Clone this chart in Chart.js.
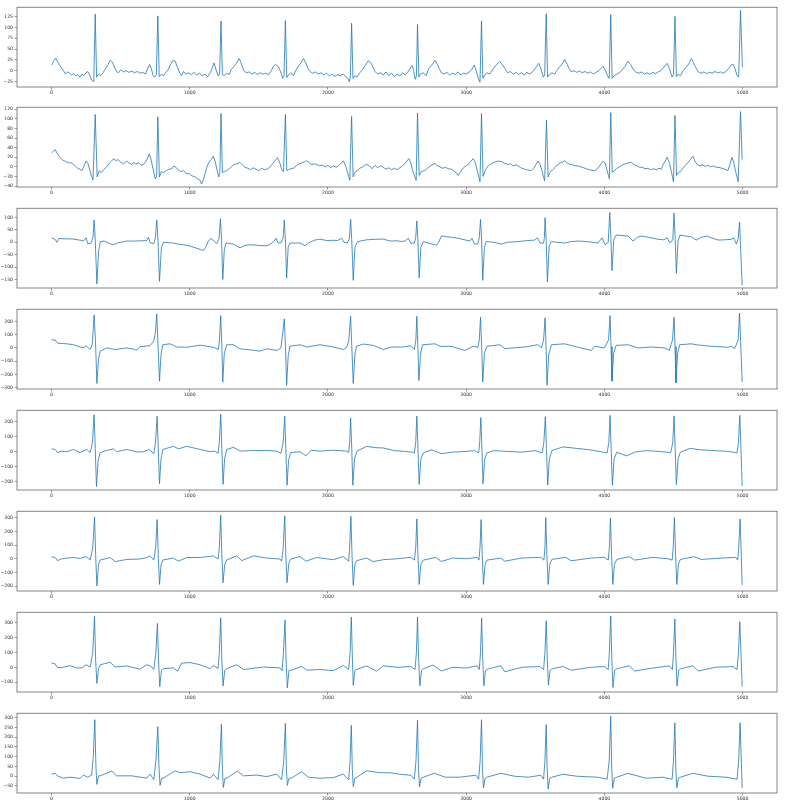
<!DOCTYPE html>
<html>
<head>
<meta charset="utf-8">
<script src="https://cdn.jsdelivr.net/npm/chart.js@4.4.1/dist/chart.umd.min.js"></script>
<style>
  body { margin: 0; background: #fff; }
  #wrap { position: relative; width: 785px; height: 806px; }
  .panel { position: absolute; left: 0; width: 785px; height: 100px; }
</style>
</head>
<body>
<div id="wrap"></div>
<script>
// sample index ticks shared by all leads
let xTicks = [0, 1000, 2000, 3000, 4000, 5000];

// each lead: [sample, value] points
let lead1 = [[0,13],[15,22],[30,29],[45,20],[60,12],[75,5],[90,-2],[100,-8],[115,-3],[130,-6],[145,-10],[160,-7],[175,-12],[190,-9],[205,-15],[220,-8],[235,-12],[250,-5],[262,-2],[275,-10],[290,-22],[300,-25],[306,-18],[316,131],[326,-15],[340,-8],[355,-12],[370,-6],[390,4],[410,15],[425,24],[440,20],[455,8],[470,-2],[485,-5],[500,2],[520,-3],[540,0],[560,-4],[580,-1],[600,-5],[620,-2],[640,-6],[660,-4],[680,-8],[695,5],[710,14],[722,5],[735,-12],[748,-15],[758,-10],[769,127],[779,-14],[792,-9],[810,-12],[825,-5],[845,3],[862,15],[880,24],[895,22],[910,8],[925,-3],[940,-12],[955,-2],[970,-8],[990,-5],[1010,-9],[1030,-4],[1050,-10],[1070,-6],[1090,-12],[1110,-8],[1130,-14],[1150,-4],[1165,8],[1175,18],[1190,2],[1205,-12],[1216,-8],[1226,115],[1236,-9],[1250,-12],[1265,-6],[1285,-9],[1300,2],[1320,10],[1340,18],[1358,28],[1375,15],[1390,0],[1410,-5],[1430,-3],[1450,-8],[1470,-4],[1490,-9],[1510,-5],[1530,-8],[1550,-6],[1570,-10],[1590,0],[1605,10],[1620,14],[1640,10],[1660,-5],[1672,-18],[1682,-12],[1692,116],[1702,-16],[1715,-10],[1730,-5],[1750,-12],[1770,2],[1790,12],[1805,18],[1822,28],[1840,18],[1855,5],[1870,-2],[1890,-6],[1910,-3],[1930,-8],[1950,-5],[1970,-10],[1990,-6],[2010,-12],[2030,-8],[2050,-14],[2070,-9],[2090,-12],[2110,-8],[2130,-14],[2145,-18],[2155,-26],[2162,-15],[2171,110],[2181,-18],[2195,-12],[2210,-15],[2230,-5],[2250,2],[2270,12],[2292,23],[2310,18],[2325,8],[2340,-2],[2360,-8],[2380,-5],[2400,-10],[2420,-3],[2440,-12],[2460,-6],[2480,-14],[2500,-8],[2520,-12],[2540,-5],[2560,-10],[2580,-2],[2600,8],[2610,12],[2620,0],[2632,-20],[2640,-12],[2648,107],[2658,-15],[2670,-8],[2690,-5],[2710,-12],[2730,5],[2750,12],[2774,24],[2790,15],[2805,5],[2820,-5],[2840,-8],[2860,-4],[2880,-10],[2900,-6],[2920,-9],[2940,-3],[2960,-10],[2980,-6],[3000,-8],[3020,-4],[3040,2],[3058,13],[3072,0],[3090,-20],[3100,-27],[3111,115],[3121,-18],[3135,-10],[3150,-5],[3170,-8],[3190,2],[3215,12],[3243,21],[3260,15],[3280,5],[3300,-5],[3320,-2],[3340,-8],[3360,-4],[3380,-9],[3400,-5],[3420,-10],[3440,-4],[3460,-8],[3480,-3],[3500,5],[3525,17],[3540,5],[3558,-15],[3568,-10],[3579,132],[3589,-15],[3600,-10],[3620,-5],[3640,-8],[3660,2],[3680,10],[3700,18],[3713,26],[3730,15],[3745,5],[3760,-3],[3780,0],[3800,-4],[3820,-1],[3840,-5],[3860,-2],[3880,-6],[3900,-3],[3920,-8],[3940,-4],[3960,0],[3975,5],[3990,10],[4005,2],[4020,-10],[4035,-18],[4046,130],[4056,-18],[4070,-12],[4090,-8],[4110,-5],[4130,2],[4150,10],[4171,22],[4190,14],[4210,2],[4230,-4],[4250,-6],[4270,-3],[4290,-8],[4310,-5],[4330,-9],[4350,-4],[4370,-7],[4390,-3],[4410,0],[4430,8],[4455,17],[4470,5],[4490,-15],[4500,-10],[4511,126],[4521,-14],[4535,-8],[4550,-12],[4570,0],[4590,8],[4610,15],[4629,28],[4645,18],[4660,8],[4680,-3],[4700,-6],[4720,-3],[4740,-7],[4760,-4],[4780,-6],[4800,-2],[4820,-5],[4840,-3],[4860,-6],[4880,-2],[4900,5],[4915,12],[4930,15],[4945,5],[4960,-12],[4972,-15],[4985,140],[4999,8]];

let lead2 = [[0,29],[15,33],[26,36],[40,28],[55,22],[63,19],[80,14],[95,12],[110,10],[125,8],[140,9],[160,5],[175,1],[190,-3],[205,-5],[220,-8],[235,2],[250,12],[262,8],[275,-5],[290,-20],[300,-27],[316,109],[330,-21],[345,-8],[360,-12],[380,-5],[400,0],[420,8],[435,12],[448,17],[465,13],[480,15],[500,10],[520,6],[545,12],[560,8],[580,5],[593,9],[610,6],[630,8],[650,3],[665,5],[680,10],[695,18],[708,27],[720,15],[735,-5],[750,-25],[760,-20],[769,104],[780,-21],[795,-10],[810,-12],[830,-8],[850,-5],[870,-4],[885,2],[900,-1],[915,-6],[935,-10],[955,-8],[978,-15],[995,-14],[1010,-18],[1027,-20],[1045,-22],[1060,-26],[1075,-28],[1085,-36],[1095,-30],[1110,-15],[1123,-1],[1140,10],[1155,15],[1171,22],[1185,10],[1200,-10],[1210,-21],[1218,-12],[1226,111],[1236,-12],[1250,-10],[1267,-8],[1285,-4],[1300,0],[1320,5],[1340,6],[1364,9],[1380,4],[1400,-1],[1420,-3],[1440,-6],[1460,-2],[1480,-5],[1500,-8],[1520,-3],[1540,-6],[1557,-5],[1575,-2],[1595,5],[1615,12],[1634,19],[1650,10],[1665,-6],[1678,-10],[1692,109],[1702,-8],[1720,-5],[1749,-3],[1770,2],[1790,6],[1810,8],[1830,10],[1846,13],[1865,8],[1880,5],[1900,6],[1918,5],[1940,2],[1960,4],[1980,0],[2000,3],[2020,-2],[2039,2],[2060,-1],[2080,3],[2095,8],[2111,12],[2125,4],[2140,-10],[2150,-20],[2158,-28],[2171,105],[2182,-21],[2195,-12],[2210,-8],[2230,-3],[2250,0],[2265,3],[2280,5],[2300,2],[2320,-4],[2340,3],[2360,-2],[2380,2],[2400,-1],[2420,-5],[2440,-2],[2460,-6],[2480,-3],[2500,-6],[2520,-2],[2540,2],[2560,8],[2585,17],[2600,8],[2615,-10],[2630,-22],[2638,-28],[2648,112],[2660,-18],[2675,-10],[2701,-8],[2720,-3],[2740,2],[2760,5],[2774,7],[2790,3],[2810,0],[2830,-3],[2850,-1],[2870,-4],[2894,-5],[2910,-8],[2925,-12],[2942,-18],[2960,-10],[2980,-2],[3000,2],[3020,6],[3035,12],[3050,17],[3065,10],[3080,-8],[3092,-22],[3100,-31],[3111,111],[3122,-20],[3135,-10],[3150,-1],[3170,4],[3190,8],[3210,10],[3230,12],[3255,11],[3275,8],[3300,5],[3320,6],[3340,2],[3360,4],[3376,2],[3395,-2],[3415,-4],[3435,-6],[3455,-7],[3472,-8],[3490,-3],[3505,5],[3521,12],[3535,5],[3550,-10],[3560,-22],[3568,-29],[3581,97],[3593,-21],[3605,-12],[3620,-8],[3640,-2],[3660,4],[3680,8],[3700,10],[3713,13],[3730,8],[3750,5],[3770,4],[3790,2],[3810,2],[3830,0],[3850,-2],[3870,-4],[3890,-6],[3910,-7],[3930,-8],[3950,-4],[3970,4],[3990,12],[4005,8],[4020,-8],[4030,-18],[4036,-25],[4046,113],[4057,-12],[4070,-8],[4090,-3],[4110,0],[4130,4],[4150,6],[4170,8],[4195,9],[4215,5],[4235,2],[4255,-1],[4275,-1],[4295,-4],[4315,-3],[4335,-6],[4355,-4],[4375,-6],[4395,-3],[4412,-5],[4425,5],[4440,12],[4455,20],[4470,8],[4485,-10],[4493,-22],[4500,-31],[4511,107],[4522,-18],[4535,-12],[4550,-10],[4570,-2],[4590,5],[4610,10],[4625,16],[4641,22],[4655,12],[4670,5],[4690,2],[4710,4],[4730,1],[4750,3],[4770,0],[4790,2],[4810,-1],[4822,-1],[4840,-2],[4860,-4],[4880,-6],[4894,-8],[4905,2],[4915,12],[4923,20],[4935,10],[4950,-10],[4960,-22],[4968,-31],[4985,115],[4997,15]];

let lead3 = [[0,18],[25,12],[39,0],[55,16],[80,14],[120,14],[159,13],[200,9],[231,5],[250,18],[262,-6],[285,-4],[300,20],[308,90],[316,10],[328,-167],[340,-40],[352,3],[380,5],[410,-3],[448,-10],[480,-2],[545,5],[600,5],[650,6],[689,7],[701,20],[715,-3],[740,-5],[752,20],[761,90],[770,10],[781,-157],[795,-20],[810,0],[850,-2],[882,-3],[920,-8],[954,-10],[1000,-15],[1040,-22],[1075,-29],[1099,-33],[1115,-20],[1135,5],[1152,16],[1170,8],[1195,-5],[1212,15],[1222,95],[1230,10],[1239,-150],[1250,-30],[1262,-3],[1290,-5],[1316,-7],[1340,-15],[1364,-22],[1400,-12],[1440,-10],[1490,-12],[1530,-14],[1557,-14],[1590,-5],[1610,5],[1624,16],[1640,-3],[1660,-2],[1675,15],[1684,90],[1692,10],[1701,-144],[1712,-20],[1725,-3],[1760,-3],[1798,-3],[1834,-14],[1860,-2],[1900,8],[1942,13],[1990,7],[2040,8],[2070,7],[2099,16],[2115,0],[2140,-3],[2155,15],[2164,92],[2172,10],[2183,-153],[2195,-20],[2210,0],[2240,6],[2280,10],[2340,12],[2400,13],[2450,5],[2500,6],[2533,3],[2560,6],[2581,16],[2600,-4],[2625,-3],[2635,20],[2643,86],[2651,5],[2660,-144],[2672,-20],[2690,3],[2725,-3],[2760,-8],[2785,-12],[2800,0],[2822,26],[2860,22],[2900,20],[2942,16],[2990,10],[3026,5],[3042,16],[3060,-8],[3085,-5],[3095,20],[3104,92],[3112,5],[3120,-153],[3132,-20],[3145,3],[3200,0],[3255,-7],[3300,0],[3376,3],[3430,6],[3496,9],[3516,18],[3535,-3],[3560,-3],[3566,20],[3571,99],[3579,5],[3588,-160],[3600,-15],[3617,3],[3660,0],[3713,-3],[3760,3],[3810,5],[3870,3],[3930,-1],[3954,-3],[3983,18],[4005,-10],[4028,0],[4039,120],[4047,20],[4055,-114],[4068,10],[4084,29],[4120,28],[4171,25],[4207,5],[4240,20],[4269,25],[4320,20],[4390,12],[4430,10],[4455,18],[4474,-3],[4495,10],[4504,118],[4512,20],[4521,-125],[4533,5],[4547,29],[4590,25],[4629,22],[4665,9],[4700,20],[4740,25],[4822,9],[4870,10],[4918,12],[4935,18],[4955,-7],[4968,15],[4978,82],[4997,-173]];

let lead4 = [[0,60],[26,60],[43,36],[80,33],[111,31],[159,24],[207,7],[235,3],[250,16],[280,-12],[295,30],[308,248],[318,50],[328,-267],[340,-80],[352,-24],[400,0],[460,-12],[545,0],[600,-10],[617,-17],[640,10],[713,17],[740,52],[752,120],[761,255],[770,30],[781,-250],[792,-50],[805,24],[858,31],[906,7],[978,5],[1075,21],[1171,5],[1207,-12],[1215,60],[1224,243],[1232,20],[1239,-257],[1250,-40],[1267,24],[1316,24],[1364,-7],[1460,-17],[1508,-24],[1557,-7],[1630,-19],[1660,0],[1684,219],[1692,20],[1701,-281],[1712,-60],[1725,12],[1798,24],[1846,7],[1942,24],[2039,7],[2111,-12],[2135,5],[2150,48],[2164,238],[2172,20],[2183,-267],[2195,-50],[2207,12],[2255,29],[2328,19],[2400,-12],[2460,7],[2540,7],[2600,17],[2625,-12],[2636,60],[2643,238],[2650,20],[2658,-245],[2670,-40],[2685,24],[2774,31],[2810,12],[2894,12],[2990,-19],[3050,12],[3085,5],[3095,60],[3104,231],[3112,10],[3120,-257],[3132,-40],[3150,12],[3243,24],[3280,-5],[3425,7],[3520,24],[3545,0],[3560,60],[3571,226],[3578,10],[3585,-281],[3597,-50],[3617,24],[3713,31],[3810,5],[3906,-19],[3930,12],[4000,0],[4030,60],[4041,243],[4048,10],[4055,-250],[4067,-40],[4085,19],[4171,24],[4243,0],[4340,7],[4436,0],[4470,-17],[4493,60],[4504,231],[4511,10],[4518,-262],[4530,-40],[4545,24],[4629,31],[4665,24],[4774,12],[4894,5],[4918,12],[4943,-5],[4968,60],[4978,262],[4997,-257]];

let lead5 = [[0,17],[26,13],[43,-8],[70,2],[111,-2],[159,13],[207,-8],[255,13],[280,-8],[296,60],[308,244],[316,20],[325,-234],[337,-60],[352,-8],[400,7],[448,17],[470,-2],[545,13],[620,-4],[665,-2],[708,13],[740,-15],[752,60],[764,234],[772,20],[781,-215],[792,-50],[805,13],[882,34],[918,17],[978,34],[1075,13],[1147,-2],[1180,2],[1205,-13],[1214,60],[1224,248],[1232,20],[1241,-219],[1252,-50],[1267,13],[1316,27],[1364,2],[1460,6],[1557,6],[1630,2],[1660,-13],[1676,60],[1687,234],[1695,20],[1704,-225],[1715,-60],[1730,-8],[1798,-2],[1841,-29],[1880,8],[1942,2],[2039,8],[2135,2],[2150,-8],[2157,60],[2164,223],[2172,20],[2180,-225],[2192,-50],[2210,2],[2280,34],[2340,25],[2400,23],[2480,5],[2560,0],[2610,-5],[2625,-12],[2635,60],[2643,235],[2651,20],[2660,-220],[2672,-50],[2690,-10],[2750,10],[2820,-15],[2900,-5],[3000,0],[3060,5],[3090,-10],[3098,60],[3106,225],[3114,20],[3122,-215],[3134,-50],[3150,-10],[3200,5],[3300,0],[3400,-5],[3500,5],[3550,-10],[3562,60],[3573,232],[3581,20],[3590,-225],[3602,-50],[3620,5],[3700,30],[3800,20],[3900,10],[3990,-5],[4020,-10],[4032,60],[4041,240],[4049,20],[4058,-225],[4070,-50],[4090,-5],[4160,-30],[4220,-5],[4300,5],[4400,0],[4480,-8],[4495,60],[4504,237],[4512,20],[4521,-220],[4533,-50],[4550,-5],[4620,20],[4700,10],[4800,5],[4900,0],[4960,-10],[4970,60],[4980,240],[4997,-230]];

let lead6 = [[0,14],[26,9],[43,-14],[70,-2],[111,5],[159,9],[207,2],[250,16],[280,-9],[298,80],[311,304],[319,30],[328,-198],[340,-40],[352,-9],[400,2],[424,9],[460,-21],[545,-5],[640,-2],[689,9],[713,21],[740,-9],[753,80],[764,286],[772,30],[781,-187],[793,-40],[805,-9],[882,5],[918,-18],[978,9],[1075,9],[1171,21],[1205,-2],[1214,80],[1224,318],[1232,30],[1241,-175],[1253,-40],[1267,-9],[1340,21],[1376,-14],[1460,21],[1557,5],[1653,-2],[1665,-18],[1676,80],[1687,313],[1695,30],[1704,-175],[1716,-40],[1730,-2],[1798,16],[1841,-18],[1918,9],[2039,-7],[2111,16],[2150,-18],[2157,80],[2166,309],[2174,30],[2183,-194],[2195,-40],[2207,-14],[2280,5],[2328,-21],[2400,-7],[2500,0],[2600,10],[2625,-10],[2635,80],[2643,290],[2651,30],[2660,-187],[2672,-40],[2690,-10],[2780,10],[2820,-20],[2900,5],[3000,0],[3080,10],[3092,-10],[3100,80],[3108,285],[3116,30],[3125,-187],[3137,-40],[3150,-10],[3250,5],[3280,-18],[3400,5],[3540,10],[3562,-10],[3570,80],[3576,300],[3584,30],[3593,-187],[3605,-40],[3620,-5],[3720,10],[3760,-15],[3900,5],[4000,10],[4028,-10],[4036,80],[4044,298],[4052,30],[4061,-187],[4073,-40],[4090,-5],[4180,15],[4220,-10],[4350,10],[4460,0],[4490,-10],[4498,80],[4507,300],[4515,30],[4524,-187],[4536,-40],[4550,-5],[4650,15],[4700,-5],[4850,5],[4950,10],[4965,-10],[4972,80],[4982,290],[4997,-190]];

let lead7 = [[0,28],[26,23],[43,-2],[80,0],[135,11],[180,-4],[220,-4],[250,17],[280,2],[298,100],[311,343],[319,50],[328,-108],[340,-10],[352,17],[424,34],[460,2],[545,9],[640,-13],[689,17],[720,7],[740,-15],[755,100],[766,296],[774,50],[783,-130],[795,-20],[810,-9],[882,-4],[911,-26],[942,28],[1002,32],[1075,17],[1147,-9],[1171,13],[1205,-9],[1214,100],[1224,332],[1232,50],[1241,-126],[1253,-20],[1267,-9],[1340,17],[1388,-15],[1533,2],[1653,-4],[1668,-23],[1678,100],[1689,317],[1697,50],[1706,-138],[1718,-20],[1735,-19],[1810,6],[1846,-19],[1942,-15],[2039,-23],[2111,13],[2150,-15],[2160,100],[2169,338],[2177,50],[2183,-121],[2195,-20],[2210,-13],[2280,9],[2352,-26],[2400,10],[2500,0],[2600,5],[2630,-15],[2640,100],[2648,338],[2656,50],[2665,-125],[2677,-20],[2690,-10],[2760,15],[2820,-25],[2900,0],[3000,-5],[3080,10],[3095,-15],[3104,100],[3112,332],[3120,50],[3128,-125],[3140,-20],[3160,-10],[3250,10],[3280,-30],[3400,0],[3530,5],[3560,-15],[3570,100],[3579,313],[3587,50],[3595,-120],[3607,-20],[3620,-10],[3700,5],[3760,-20],[3900,0],[4000,5],[4028,-15],[4036,100],[4046,345],[4054,50],[4062,-135],[4074,-20],[4090,-10],[4180,10],[4220,-25],[4350,-5],[4470,10],[4492,-15],[4500,100],[4510,325],[4518,50],[4526,-125],[4538,-20],[4550,-10],[4640,10],[4680,-25],[4800,0],[4930,5],[4960,-15],[4970,100],[4980,306],[4997,-130]];

let lead8 = [[0,10],[26,15],[43,2],[87,-10],[130,-5],[207,-11],[230,6],[262,-5],[290,6],[302,100],[313,290],[321,50],[328,-42],[340,2],[352,2],[436,26],[470,2],[580,2],[689,-10],[713,11],[740,-18],[755,80],[769,254],[777,50],[785,-47],[797,-10],[810,-10],[894,28],[930,18],[1002,23],[1075,11],[1147,-10],[1171,10],[1205,-18],[1218,80],[1229,266],[1236,40],[1243,-58],[1255,-10],[1267,-10],[1345,26],[1388,2],[1485,6],[1557,-2],[1629,11],[1665,-18],[1680,80],[1692,271],[1699,40],[1706,-47],[1718,-10],[1735,-10],[1810,23],[1858,-5],[1942,-10],[2039,-7],[2111,11],[2150,-18],[2160,80],[2169,261],[2176,40],[2183,-53],[2195,-10],[2210,-5],[2280,28],[2377,18],[2450,18],[2520,10],[2600,5],[2625,-15],[2637,80],[2648,288],[2655,40],[2662,-55],[2674,-10],[2690,-5],[2770,15],[2850,-5],[2950,-5],[3070,5],[3090,-15],[3101,80],[3111,290],[3118,40],[3125,-60],[3137,-10],[3150,-5],[3250,15],[3350,0],[3450,-5],[3540,5],[3560,-15],[3570,80],[3579,265],[3586,40],[3593,-66],[3605,-10],[3620,-5],[3700,10],[3800,0],[3950,-5],[4020,-15],[4035,80],[4046,308],[4053,40],[4060,-62],[4072,-10],[4090,-5],[4170,15],[4300,-10],[4420,-5],[4490,-15],[4500,80],[4510,274],[4517,40],[4524,-60],[4536,-10],[4550,-5],[4640,15],[4750,0],[4880,-5],[4960,-15],[4972,80],[4982,274],[4997,-60]];

let leads = [lead1, lead2, lead3, lead4, lead5, lead6, lead7, lead8];

// y axis limits and tick values per lead
let yMin = [-38, -42, -184, -309, -257, -235, -166, -86];
let yMax = [147, 124, 137, 291, 274, 346, 370, 323];
let yTicks = [
    [-25, 0, 25, 50, 75, 100, 125],
    [-40, -20, 0, 20, 40, 60, 80, 100, 120],
    [-150, -100, -50, 0, 50, 100],
    [-300, -200, -100, 0, 100, 200],
    [-200, -100, 0, 100, 200],
    [-200, -100, 0, 100, 200, 300],
    [-100, 0, 100, 200, 300],
    [-50, 0, 50, 100, 150, 200, 250, 300]
];

// top of each axes box in the picture
let panelTop = [4, 104, 205, 306, 407, 508, 609, 710];

let tickFont = { family: 'DejaVu Sans', size: 4.6 };
let fmt = function (v) {
    return v < 0 ? '\u2212' + Math.abs(v) : String(v);
};

let frame = {
    id: 'frame',
    afterDraw: function (chart) {
        let a = chart.chartArea;
        let c = chart.ctx;
        c.save();
        c.strokeStyle = '#666';
        c.lineWidth = 0.8;
        c.strokeRect(a.left, a.top, a.right - a.left, a.bottom - a.top);
        c.restore();
    }
};

let wrap = document.getElementById('wrap');

leads.forEach(function (lead, i) {
    let canvas = document.createElement('canvas');
    canvas.className = 'panel';
    canvas.style.top = (panelTop[i] - 1) + 'px';
    canvas.width = 785;
    canvas.height = 100;
    wrap.appendChild(canvas);

    new Chart(canvas.getContext('2d'), {
        type: 'line',
        data: {
            datasets: [{
                data: lead.map(function (p) { return { x: p[0], y: p[1] }; }),
                borderColor: '#1f77b4',
                borderWidth: 0.8,
                pointRadius: 0,
                tension: 0,
                fill: false
            }]
        },
        options: {
            responsive: false,
            animation: false,
            events: [],
            layout: { padding: { top: 1, right: 8, left: 0, bottom: 0 } },
            plugins: { legend: { display: false }, tooltip: { enabled: false } },
            scales: {
                x: {
                    type: 'linear',
                    min: -250,
                    max: 5249,
                    afterBuildTicks: function (s) { s.ticks = xTicks.map(function (v) { return { value: v }; }); },
                    afterFit: function (s) { s.height = 16; },
                    border: { display: false },
                    grid: { drawOnChartArea: false, tickLength: 2.5, color: '#555', lineWidth: 0.6 },
                    ticks: { font: tickFont, color: '#333', padding: 1, maxRotation: 0, autoSkip: false, callback: fmt }
                },
                y: {
                    min: yMin[i],
                    max: yMax[i],
                    afterBuildTicks: function (s) { s.ticks = yTicks[i].map(function (v) { return { value: v }; }); },
                    afterFit: function (s) { s.width = 17; },
                    border: { display: false },
                    grid: { drawOnChartArea: false, tickLength: 2.5, color: '#555', lineWidth: 0.6 },
                    ticks: { font: tickFont, color: '#333', padding: 1.5, autoSkip: false, callback: fmt }
                }
            }
        },
        plugins: [frame]
    });
});
</script>
</body>
</html>
